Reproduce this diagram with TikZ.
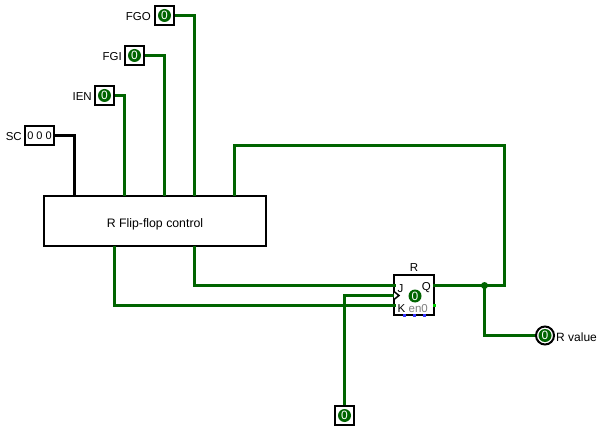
\documentclass[tikz,border=0pt]{standalone}
\usepackage{fontspec}
\setmainfont{Liberation Sans}
\definecolor{wiregreen}{RGB}{0,100,0}
\tikzset{
	wire/.style={line width=2.8pt,color=wiregreen},
	buswire/.style={line width=2.8pt,color=black},
	pinbox/.style={draw,line width=2pt,fill=white,minimum width=19pt,minimum height=19pt,inner sep=0pt},
	bitval/.style={circle,fill=wiregreen,text=white,minimum size=13pt,inner sep=0pt,font=\fontsize{12}{12}\selectfont},
	lab/.style={inner sep=0pt,font=\fontsize{11.5}{12}\selectfont},
}
\begin{document}
\begin{tikzpicture}[x=1pt,y=-1pt]
	\useasboundingbox (0,0) rectangle (602,430);
	% inputs
	\node[pinbox,minimum width=29pt] (sc) at (39.5,135.5) {};
	\node[lab,font=\fontsize{11}{12}\selectfont] (scval) at (39.5,135.5) {0 0 0};
	\node[pinbox] (ien) at (104.5,95.5) {};
	\node[pinbox] (fgi) at (134.5,55.5) {};
	\node[pinbox] (fgo) at (164.5,15.5) {};
	\node[bitval] (ienval) at (104.5,95.5) {0};
	\node[bitval] (fgival) at (134.5,55.5) {0};
	\node[bitval] (fgoval) at (164.5,15.5) {0};
	\node[lab,anchor=east] (sclab) at (22,137) {SC};
	\node[lab,anchor=east] (ienlab) at (92,97) {IEN};
	\node[lab,anchor=east] (fgilab) at (122,57) {FGI};
	\node[lab,anchor=east] (fgolab) at (151,17) {FGO};
	% control block
	\node[draw,line width=2pt,minimum width=222pt,minimum height=50pt,inner sep=0pt] (control) at (155,221) {};
	\node[lab,font=\fontsize{12.3}{12}\selectfont] (controllab) at (155,224) {R Flip-flop control};
	\coordinate (scin) at (74.5,196);
	\coordinate (ienin) at (124.5,196);
	\coordinate (fgiin) at (164.5,196);
	\coordinate (fgoin) at (194.5,196);
	\coordinate (rin) at (234.5,196);
	\coordinate (jout) at (194.5,246);
	\coordinate (kout) at (114.5,246);
	% flip-flop
	\node[pinbox,minimum width=40pt,minimum height=40pt] (ff) at (414,295) {};
	\coordinate (ffj) at (395.5,285.5);
	\coordinate (ffc) at (395.5,295.5);
	\coordinate (ffk) at (395.5,305.5);
	\coordinate (ffq) at (432.5,285.5);
	\coordinate (loop) at (504.5,145.5);
	\coordinate (junc) at (484.5,285.5);
	\node[lab,anchor=south] (fflab) at (414,272) {R};
	\node[bitval] (ffval) at (415,296) {0};
	% clock and output
	\node[pinbox] (clk) at (344.5,415.5) {};
	\node[bitval] (clkval) at (344.5,415.5) {0};
	\node[circle,draw,line width=2pt,fill=white,minimum size=18pt,inner sep=0pt] (out) at (545,335.5) {};
	\node[bitval] (outval) at (545,335.5) {0};
	\node[lab,anchor=west,font=\fontsize{12}{12}\selectfont] (outlab) at (556,337) {R value};
	% wires
	\draw[buswire] (sc.east) -| (scin);
	\draw[wire] (ien.east) -| (ienin);
	\draw[wire] (fgi.east) -| (fgiin);
	\draw[wire] (fgo.east) -| (fgoin);
	\draw[wire] (rin) |- (loop) |- (ffq);
	\draw[wire] (jout) |- (ffj);
	\draw[wire] (kout) |- (ffk);
	\draw[wire] (clk.north) |- (ffc);
	\draw[wire] (junc) |- (out.west);
	\fill[wiregreen] (junc) circle (3.5pt);
	% ports on the flip-flop
	\node[lab,anchor=west] (jlab) at (397.5,289) {J};
	\node[lab,anchor=east] (qlab) at (431,288) {Q};
	\node[lab,anchor=west] (klab) at (397.5,309) {K};
	\node[lab,anchor=east,text=gray] (enlab) at (428,309) {en0};
	\draw[line width=1.5pt,fill=white] (394,291.5) -- (399,295.5) -- (394,299.5);
	\foreach \px in {404,414,424}
		\fill[blue!80] (\px-1.5,314) rectangle (\px+1.5,317);
	\fill[green!80!black] (432.5,303.5) rectangle (435.5,306.5);
\end{tikzpicture}
\end{document}
